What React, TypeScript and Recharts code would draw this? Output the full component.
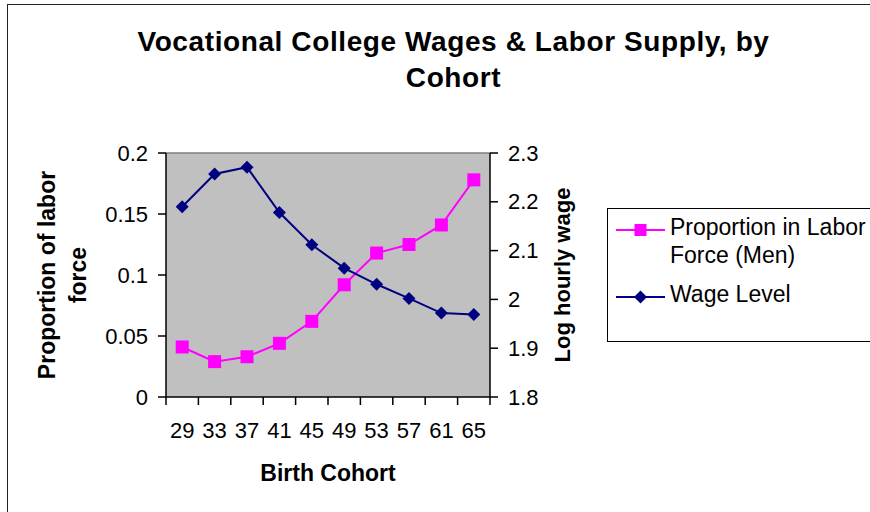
import React from "react";
import {
  ComposedChart,
  Line,
  XAxis,
  YAxis,
  CartesianGrid,
  ReferenceLine,
} from "recharts";

const cohorts = ["29", "33", "37", "41", "45", "49", "53", "57", "61", "65"];
const laborShare = [0.041, 0.029, 0.033, 0.044, 0.062, 0.092, 0.118, 0.125, 0.141, 0.178];
const wageLevel = [2.19, 2.257, 2.271, 2.178, 2.112, 2.064, 2.031, 2.002, 1.972, 1.969];
const leftTicks = [0, 0.05, 0.1, 0.15, 0.2];
const rightTicks = [1.8, 1.9, 2, 2.1, 2.2, 2.3];

const FONT = "'Liberation Sans', Arial, sans-serif";
const PINK = "#FF00FF";
const NAVY = "#000080";

const W = 870;
const H = 512;
const MARGIN = { top: 153, right: 290, bottom: 0, left: 0 };
const LEFT_AXIS_W = 166;
const RIGHT_AXIS_W = 90;
const X_AXIS_H = 115;
const PLOT_W = W - MARGIN.left - MARGIN.right - LEFT_AXIS_W - RIGHT_AXIS_W;
const BAND = PLOT_W / cohorts.length;

const data = cohorts.map((c, i) => ({ cohort: c, share: laborShare[i], wage: wageLevel[i] }));

const Square = ({ cx, cy, size = 13 }: any) =>
  cx == null ? null : (
    <rect x={cx - size / 2} y={cy - size / 2} width={size} height={size} fill={PINK} />
  );

const Diamond = ({ cx, cy, r = 6.5 }: any) =>
  cx == null ? null : (
    <polygon
      points={`${cx},${cy - r} ${cx + r},${cy} ${cx},${cy + r} ${cx - r},${cy}`}
      fill={NAVY}
    />
  );

// Excel-style category ticks: marks between categories, labels in the middle
const CohortTick = (props: any) => {
  const { x, y, payload, index } = props;
  const axisY = y - 21;
  const last = index === cohorts.length - 1;
  return (
    <g>
      <line x1={x - BAND / 2} x2={x - BAND / 2} y1={axisY} y2={axisY + 8} stroke="#000" strokeWidth={1.5} />
      {last && (
        <line x1={x + BAND / 2} x2={x + BAND / 2} y1={axisY} y2={axisY + 8} stroke="#000" strokeWidth={1.5} />
      )}
      <text x={x} y={y + 12} textAnchor="middle" dominantBaseline="central" fontSize={22} fill="#000" fontFamily={FONT}>
        {payload.value}
      </text>
    </g>
  );
};

// Excel-style value ticks: outside mark plus label
const ValueTick = (props: any) => {
  const { x, y, payload, textAnchor, tickFormatter, side } = props;
  const dir = side === "left" ? 1 : -1;
  const axisX = x + dir * 18;
  return (
    <g>
      <line x1={axisX} x2={axisX - dir * 8} y1={y} y2={y} stroke="#000" strokeWidth={1.5} />
      <text x={x} y={y} textAnchor={textAnchor} dominantBaseline="central" fontSize={22} fill="#000" fontFamily={FONT}>
        {tickFormatter ? tickFormatter(payload.value) : String(payload.value)}
      </text>
    </g>
  );
};

const legendRows = [
  { lines: ["Proportion in Labor", "Force (Men)"], color: PINK, marker: "square" },
  { lines: ["Wage Level"], color: NAVY, marker: "diamond" },
];

function LegendBox() {
  let y = 22;
  return (
    <svg
      width={W - 607}
      height={140}
      style={{ position: "absolute", left: 607, top: 208, overflow: "hidden" }}
    >
      <rect x={0.5} y={0.5} width={320} height={133} fill="#fff" stroke="#000" />
      {legendRows.map((row, i) => {
        const cy = y;
        y += row.lines.length * 28 + 11;
        return (
          <g key={i}>
            <line x1={9} x2={58} y1={cy} y2={cy} stroke={row.color} strokeWidth={2} />
            {row.marker === "square" ? <Square cx={33.5} cy={cy} size={12} /> : <Diamond cx={33.5} cy={cy} r={6.5} />}
            {row.lines.map((t, j) => (
              <text key={j} x={63} y={cy + 5 + j * 28} fontSize={23} fontFamily={FONT} fill="#000">
                {t}
              </text>
            ))}
          </g>
        );
      })}
    </svg>
  );
}

export default function App() {
  return (
    <div style={{ position: "absolute", left: 0, top: 0, width: W, height: H, overflow: "hidden", background: "#fff", fontFamily: FONT }}>
      <div
        style={{
          position: "absolute",
          left: 7,
          top: 4,
          width: 1000,
          height: 1000,
          borderLeft: "1.5px solid #222",
          borderTop: "1.5px solid #222",
        }}
      />
      <div
        style={{
          position: "absolute",
          left: 0,
          top: 24,
          width: 907,
          textAlign: "center",
          fontWeight: "bold",
          fontSize: 28,
          letterSpacing: 0.6,
          lineHeight: "36px",
          color: "#000",
        }}
      >
        Vocational College Wages &amp; Labor Supply, by
        <br />
        Cohort
      </div>
      <div style={{ position: "absolute", left: 0, top: 0 }}>
        <ComposedChart width={W} height={H} data={data} margin={MARGIN}>
          <CartesianGrid fill="#C0C0C0" horizontal={false} vertical={false} yAxisId="left" />
          <XAxis
            dataKey="cohort"
            height={X_AXIS_H}
            padding={{ left: BAND / 2, right: BAND / 2 }}
            axisLine={{ stroke: "#000", strokeWidth: 1.5 }}
            tickLine={false}
            tickSize={7}
            tickMargin={14}
            interval={0}
            tick={<CohortTick />}
            label={{
              content: (p: any) => (
                <text
                  x={p.viewBox.x + p.viewBox.width / 2}
                  y={p.viewBox.y + 76}
                  textAnchor="middle"
                  dominantBaseline="central"
                  fontSize={23}
                  fontWeight="bold"
                  fontFamily={FONT}
                  fill="#000"
                >
                  Birth Cohort
                </text>
              ),
            }}
          />
          <YAxis
            yAxisId="left"
            width={LEFT_AXIS_W}
            domain={[0, 0.2]}
            ticks={leftTicks}
            tickFormatter={(v: number) => String(v)}
            axisLine={{ stroke: "#000", strokeWidth: 1.5 }}
            tickLine={false}
            tickSize={8}
            tickMargin={10}
            tick={<ValueTick side="left" />}
            label={{
              content: (p: any) => {
                const cy = p.viewBox.y + p.viewBox.height / 2;
                return (
                  <g fontSize={23} fontWeight="bold" fontFamily={FONT} fill="#000">
                    <text x={47} y={cy} transform={`rotate(-90 47 ${cy})`} textAnchor="middle" dominantBaseline="central">
                      Proportion of labor
                    </text>
                    <text x={78} y={cy} transform={`rotate(-90 78 ${cy})`} textAnchor="middle" dominantBaseline="central">
                      force
                    </text>
                  </g>
                );
              },
            }}
          />
          <YAxis
            yAxisId="right"
            orientation="right"
            width={RIGHT_AXIS_W}
            domain={[1.8, 2.3]}
            ticks={rightTicks}
            tickFormatter={(v: number) => String(v)}
            axisLine={{ stroke: "#000", strokeWidth: 1.5 }}
            tickLine={false}
            tickSize={7}
            tickMargin={11}
            tick={<ValueTick side="right" />}
            label={{
              content: (p: any) => {
                const cy = p.viewBox.y + p.viewBox.height / 2;
                const cx = p.viewBox.x + 72;
                return (
                  <text
                    x={cx}
                    y={cy}
                    transform={`rotate(-90 ${cx} ${cy})`}
                    textAnchor="middle"
                    dominantBaseline="central"
                    fontSize={22}
                    fontWeight="bold"
                    fontFamily={FONT}
                    fill="#000"
                  >
                    Log hourly wage
                  </text>
                );
              },
            }}
          />
          <ReferenceLine yAxisId="left" y={0.2} stroke="#808080" strokeWidth={1.5} />
          <Line
            yAxisId="left"
            dataKey="share"
            stroke={PINK}
            strokeWidth={2}
            isAnimationActive={false}
            dot={(p: any) => <Square key={`s${p.index}`} cx={p.cx} cy={p.cy} />}
            activeDot={false}
          />
          <Line
            yAxisId="right"
            dataKey="wage"
            stroke={NAVY}
            strokeWidth={2}
            isAnimationActive={false}
            dot={(p: any) => <Diamond key={`d${p.index}`} cx={p.cx} cy={p.cy} />}
            activeDot={false}
          />
        </ComposedChart>
      </div>
      <LegendBox />
    </div>
  );
}
